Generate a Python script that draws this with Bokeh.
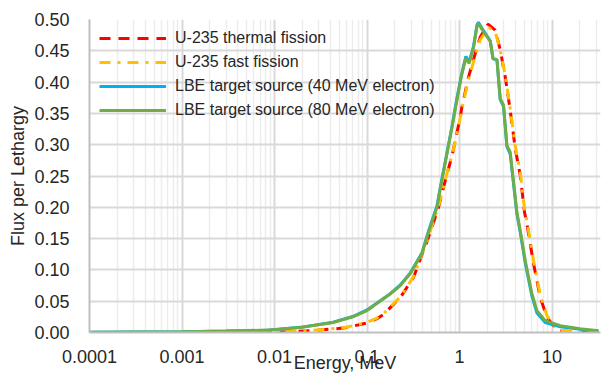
from bokeh.plotting import figure
from bokeh.models import (FixedTicker, NumeralTickFormatter, PrintfTickFormatter,
                          Range1d, Legend, LegendItem)
from bokeh.embed import file_html
from bokeh.resources import INLINE

# ---------------- data ----------------
lbe80_energy = [1e-4, 3e-4, 1e-3, 1.57e-3, 3e-3, 8.3e-3, 0.019, 0.043, 0.07, 0.1,
                0.178, 0.229, 0.293, 0.392, 0.462, 0.57, 0.62, 0.83, 0.92, 1.05,
                1.105, 1.17, 1.27, 1.42, 1.54, 1.60, 1.75, 2.15, 2.30, 2.54,
                2.75, 2.99, 3.25, 3.53, 4.17, 4.53, 5.13, 6.06, 6.87, 8.44,
                12.3, 20.0, 31.8]
lbe80_flux = [0.0005, 0.0008, 0.0012, 0.0016, 0.0024, 0.0038, 0.008, 0.016, 0.025, 0.035,
              0.0615, 0.075, 0.094, 0.126, 0.160, 0.200, 0.230, 0.328, 0.365, 0.410,
              0.424, 0.438, 0.430, 0.456, 0.488, 0.4935, 0.484, 0.465, 0.438, 0.436,
              0.374, 0.363, 0.299, 0.288, 0.192, 0.163, 0.115, 0.062, 0.035, 0.019,
              0.011, 0.006, 0.0027]

lbe40_energy = [1e-4, 3e-4, 1e-3, 1.57e-3, 3e-3, 8.3e-3, 0.019, 0.043, 0.07, 0.1,
                0.178, 0.229, 0.293, 0.392, 0.462, 0.57, 0.62, 0.83, 0.92, 1.05,
                1.105, 1.17, 1.27, 1.42, 1.54, 1.60, 1.75, 2.15, 2.30, 2.54,
                2.75, 2.99, 3.25, 3.53, 4.17, 4.53, 5.13, 6.06, 6.87, 8.44,
                12.3, 20.0, 31.8]
lbe40_flux = [0.0004, 0.0007, 0.0011, 0.0015, 0.0023, 0.0037, 0.0082, 0.0165, 0.0255, 0.036,
              0.062, 0.076, 0.095, 0.127, 0.162, 0.202, 0.232, 0.330, 0.368, 0.412,
              0.426, 0.441, 0.432, 0.458, 0.491, 0.4955, 0.486, 0.466, 0.437, 0.435,
              0.372, 0.361, 0.297, 0.285, 0.189, 0.160, 0.111, 0.058, 0.031, 0.016,
              0.009, 0.005, 0.0022]

thermal_energy = [1e-4, 1e-3, 5.5e-3, 0.0125, 0.0243, 0.0557, 0.0997, 0.128, 0.151, 0.193,
                  0.229, 0.318, 0.408, 0.444, 0.503, 0.593, 0.671, 0.76, 0.83, 0.90,
                  1.02, 1.06, 1.25, 1.48, 1.675, 2.03, 2.43, 2.75, 3.12, 3.53,
                  4.0, 4.53, 5.04, 5.35, 6.31, 7.45, 8.81, 11.3, 18.6, 31.8]
thermal_flux = [0.0001, 0.0002, 0.0005, 0.001, 0.0027, 0.007, 0.015, 0.022, 0.029, 0.045,
                0.056, 0.088, 0.131, 0.145, 0.168, 0.200, 0.232, 0.262, 0.282, 0.307,
                0.345, 0.360, 0.408, 0.446, 0.472, 0.4925, 0.483, 0.452, 0.408, 0.355,
                0.294, 0.251, 0.192, 0.1735, 0.110, 0.056, 0.024, 0.0035, 0.0003, 0.0]

fast_energy = [1e-4, 1e-3, 5.5e-3, 0.0125, 0.0243, 0.0557, 0.0997, 0.128, 0.151, 0.193,
               0.229, 0.318, 0.408, 0.444, 0.503, 0.593, 0.671, 0.76, 0.83, 0.90,
               1.02, 1.06, 1.25, 1.48, 1.675, 2.08, 2.43, 2.75, 3.12, 3.53,
               4.0, 4.53, 5.04, 5.35, 6.31, 7.45, 8.81, 11.3, 18.6, 31.8]
fast_flux = [0.0001, 0.0002, 0.0006, 0.0012, 0.003, 0.0075, 0.016, 0.023, 0.030, 0.046,
             0.057, 0.089, 0.132, 0.146, 0.170, 0.202, 0.233, 0.263, 0.283, 0.306,
             0.343, 0.357, 0.404, 0.442, 0.468, 0.487, 0.480, 0.452, 0.410, 0.358,
             0.298, 0.256, 0.197, 0.178, 0.115, 0.060, 0.027, 0.0045, 0.0005, 0.0]

x_major_ticks = [1e-4, 1e-3, 1e-2, 1e-1, 1, 10]
x_minor_ticks = [k * 10.0 ** d for d in range(-4, 2) for k in range(2, 10)]
y_ticks = [0.0, 0.05, 0.10, 0.15, 0.20, 0.25, 0.30, 0.35, 0.40, 0.45, 0.50]

labels = ["U-235 thermal fission", "U-235 fast fission",
          "LBE target source (40 MeV electron)", "LBE target source (80 MeV electron)"]

FONT = "Liberation Sans"
TXT = "#262626"

p = figure(width=602, height=376, x_axis_type="log",
           x_range=Range1d(1e-4, 33.4), y_range=Range1d(0, 0.5),
           output_backend="svg", toolbar_location=None,
           min_border_left=89, min_border_right=2, min_border_top=19,
           min_border_bottom=44)
p.outline_line_color = None
p.background_fill_color = "white"
p.border_fill_color = "white"

# grids
p.xgrid.ticker = FixedTicker(ticks=x_major_ticks, minor_ticks=x_minor_ticks)
p.xgrid.grid_line_color = "#d9d9d9"
p.xgrid.grid_line_width = 2
p.xgrid.minor_grid_line_color = "#ececec"
p.xgrid.minor_grid_line_width = 1.5
p.ygrid.ticker = FixedTicker(ticks=y_ticks)
p.ygrid.grid_line_color = "#d9d9d9"
p.ygrid.grid_line_width = 2

# axes
p.xaxis.ticker = FixedTicker(ticks=x_major_ticks, minor_ticks=x_minor_ticks)
p.xaxis.formatter = PrintfTickFormatter(format="%g")
p.yaxis.ticker = FixedTicker(ticks=y_ticks)
p.yaxis.formatter = NumeralTickFormatter(format="0.00")
for ax in (p.xaxis, p.yaxis):
    ax.axis_line_color = "#bfbfbf"
    ax.axis_line_width = 2
    ax.major_tick_line_color = None
    ax.minor_tick_line_color = None
    ax.major_tick_out = 0
    ax.major_tick_in = 0
    ax.minor_tick_out = 0
    ax.major_label_text_font = FONT
    ax.major_label_text_font_size = "18px"
    ax.major_label_text_color = TXT
    ax.axis_label_text_font = FONT
    ax.axis_label_text_font_size = "18px"
    ax.axis_label_text_font_style = "normal"
    ax.axis_label_text_color = TXT
p.xaxis.major_label_standoff = 17
p.yaxis.major_label_standoff = 20
p.yaxis.axis_label = "Flux per Lethargy"
p.yaxis.axis_label_standoff = 3
p.xaxis.axis_label = "Energy, MeV"
p.xaxis.axis_label_standoff = -13

r1 = p.line(thermal_energy, thermal_flux, line_color="#FF0000", line_width=3,
            line_dash="11 8")
r2 = p.line(fast_energy, fast_flux, line_color="#FFC000", line_width=3,
            line_dash="11 7 3 7")
r3 = p.line(lbe40_energy, lbe40_flux, line_color="#00B0F0", line_width=3)
r4 = p.line(lbe80_energy, lbe80_flux, line_color="#70AD47", line_width=3)

legend = Legend(items=[LegendItem(label=labels[0], renderers=[r1]),
                       LegendItem(label=labels[1], renderers=[r2]),
                       LegendItem(label=labels[2], renderers=[r3]),
                       LegendItem(label=labels[3], renderers=[r4])],
                location=(10, 212), orientation="vertical",
                glyph_width=67, glyph_height=20, label_height=20,
                label_standoff=9, spacing=4, padding=0, margin=0,
                border_line_color=None, background_fill_alpha=0,
                label_text_font=FONT, label_text_font_size="16px",
                label_text_color=TXT)
p.add_layout(legend)

open("out.html", "w").write(file_html(p, INLINE))
